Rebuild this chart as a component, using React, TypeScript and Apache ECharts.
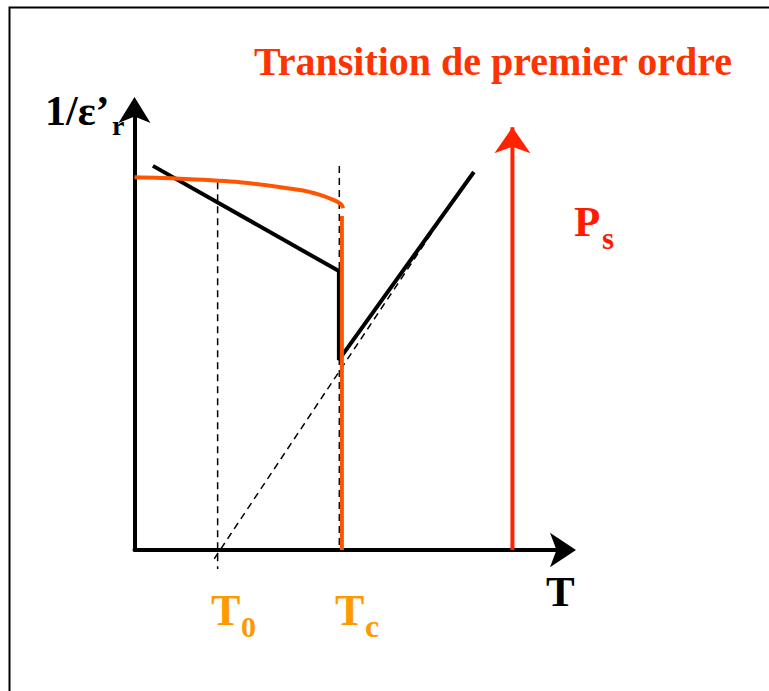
import React, { useEffect, useRef } from "react";
import * as echarts from "echarts";

// Schematic data (arbitrary units: T on x, 1/eps'_r on y, axes 0..100)
const T0 = 19.4;
const TcDash = 47.8;
const TcOrange = 48.4;
const TArrowPs = 88.2;

// Spontaneous polarisation curve Ps(T) (orange)
const psCurveT = [0, 10.6, 24.6, 38.6, 43.3, 46.8, 48.2, 48.7];
const psCurveV = [84.7, 84.4, 83.6, 81.8, 80.7, 79.4, 78.6, 77.7];
const psDropV = [75.9, 0];

// 1/eps' : ferroelectric branch, jump at Tc, paraelectric branch
const invEpsT = [4.3, 47.7, 47.7, 79.2];
const invEpsV = [87.3, 63.4, 43.2, 85.9];

// Curie-Weiss extrapolation (dashed)
const cwT = [18.6, 74.8];
const cwV = [-2.0, 80.0];

// Dashed verticals
const t0LineV = [83.6, -4.3];
const tcLineV = [87.3, 0];

// Ps arrow
const psArrowV = [0, 96.1];

const zip = (xs: number[], ys: number[]) => xs.map((x, i) => [x, ys[i]]);

export default function App() {
  const ref = useRef<HTMLDivElement>(null);
  useEffect(() => {
    if (!ref.current) return;
    const chart = echarts.init(ref.current, null, { renderer: "svg" });
    const serif = "'Liberation Serif', 'Times New Roman', serif";
    const base = {
      type: "line" as const,
      symbol: "none",
      silent: true,
      clip: false,
      animation: false,
    };
    const dashed = { color: "#000", width: 1.5, type: [7, 5] };
    const txt = (
      x: number,
      y: number,
      text: string,
      size: number,
      fill: string
    ) => ({
      type: "text",
      x,
      y,
      silent: true,
      style: {
        text,
        font: `bold ${size}px ${serif}`,
        fill,
        align: "left",
        verticalAlign: "middle",
      },
    });
    chart.setOption({
      animation: false,
      backgroundColor: "#fff",
      grid: { left: 134.5, top: 110, width: 428.5, height: 440 },
      xAxis: {
        type: "value",
        min: 0,
        max: 100,
        axisLine: {
          show: true,
          lineStyle: { color: "#000", width: 4 },
          symbol: ["none", "arrow"],
          symbolSize: [26, 26],
          symbolOffset: [0, 13],
        },
        axisTick: { show: false },
        axisLabel: { show: false },
        splitLine: { show: false },
      },
      yAxis: {
        type: "value",
        min: 0,
        max: 100,
        axisLine: {
          show: true,
          lineStyle: { color: "#000", width: 4 },
          symbol: ["none", "arrow"],
          symbolSize: [24, 26],
          symbolOffset: [0, 13],
        },
        axisTick: { show: false },
        axisLabel: { show: false },
        splitLine: { show: false },
      },
      series: [
        { ...base, data: zip(cwT, cwV), lineStyle: dashed, z: 1 },
        { ...base, data: t0LineV.map((v) => [T0, v]), lineStyle: dashed, z: 1 },
        { ...base, data: tcLineV.map((v) => [TcDash, v]), lineStyle: dashed, z: 1 },
        {
          ...base,
          data: zip(invEpsT, invEpsV),
          lineStyle: { color: "#000", width: 4 },
          z: 3,
        },
        {
          ...base,
          data: zip(psCurveT, psCurveV),
          smooth: 0.3,
          lineStyle: { color: "#ff5500", width: 4 },
          z: 4,
        },
        {
          ...base,
          data: psDropV.map((v) => [TcOrange, v]),
          lineStyle: { color: "#ff5500", width: 4 },
          z: 4,
        },
        {
          ...base,
          data: [
            { value: [TArrowPs, psArrowV[0]], symbol: "none" },
            {
              value: [TArrowPs, psArrowV[1]],
              symbol: "arrow",
              symbolSize: [27, 26],
            },
          ],
          showSymbol: true,
          symbol: "none",
          itemStyle: { color: "#ff2200" },
          lineStyle: { color: "#ff2200", width: 4 },
          z: 4,
        },
      ],
      graphic: [
        {
          type: "polyline",
          shape: { points: [[9.5, 691], [9.5, 7.5], [769, 7.5]] },
          style: { stroke: "#000", lineWidth: 2, fill: "none" },
          silent: true,
        },
        txt(254, 61, "Transition de premier ordre", 40, "#ff3300"),
        txt(45, 111, "1/ε’", 42, "#000"),
        txt(112, 125, "r", 28, "#000"),
        txt(546, 591, "T", 43, "#000"),
        txt(211, 610, "T", 44, "#ff9900"),
        txt(241, 626, "0", 30, "#ff9900"),
        txt(335, 610, "T", 44, "#ff9900"),
        txt(365, 626, "c", 32, "#ff9900"),
        txt(574, 221, "P", 43, "#ff1a00"),
        txt(602, 238, "s", 31, "#ff1a00"),
      ],
    });
    return () => chart.dispose();
  }, []);
  return (
    <div
      ref={ref}
      style={{ position: "absolute", left: 0, top: 0, width: 769, height: 691 }}
    />
  );
}
